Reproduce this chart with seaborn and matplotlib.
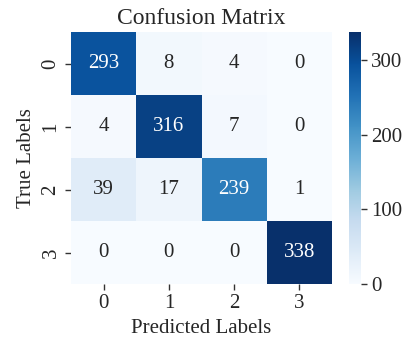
import numpy as np
import matplotlib
matplotlib.use("Agg")
import matplotlib.pyplot as plt
import seaborn as sns

class_labels = ["0", "1", "2", "3"]
row0 = [293, 8, 4, 0]
row1 = [4, 316, 7, 0]
row2 = [39, 17, 239, 1]
row3 = [0, 0, 0, 338]
cm = np.array([row0, row1, row2, row3])

sns.set_style("white")
plt.rcParams["font.family"] = ["Liberation Serif", "DejaVu Serif"]

fig = plt.figure(figsize=(4.03, 3.39), dpi=100)
ax = fig.add_axes([71 / 403, 1 - 284 / 339, 261 / 403, 252 / 339])
cax = fig.add_axes([349 / 403, 1 - 284 / 339, 12 / 403, 252 / 339])

sns.heatmap(cm, annot=True, fmt="d", cmap="Blues", ax=ax, cbar_ax=cax,
            xticklabels=class_labels, yticklabels=class_labels,
            annot_kws={"size": 15})

ax.set_title("Confusion Matrix", fontsize=17, pad=6)
ax.set_xlabel("Predicted Labels", fontsize=15)
ax.set_ylabel("True Labels", fontsize=15)
ax.tick_params(axis="both", labelsize=15, length=4, width=1, color="#333333")
ax.tick_params(axis="both", bottom=True, left=True)
for lbl in ax.get_yticklabels():
    lbl.set_rotation(90)
    lbl.set_va("center")

cax.tick_params(labelsize=15, length=4, width=1, color="#333333", right=True)
cax.yaxis.set_ticks([0, 100, 200, 300])
cax.set_frame_on(False)

fig.savefig("out.png", dpi=100)
